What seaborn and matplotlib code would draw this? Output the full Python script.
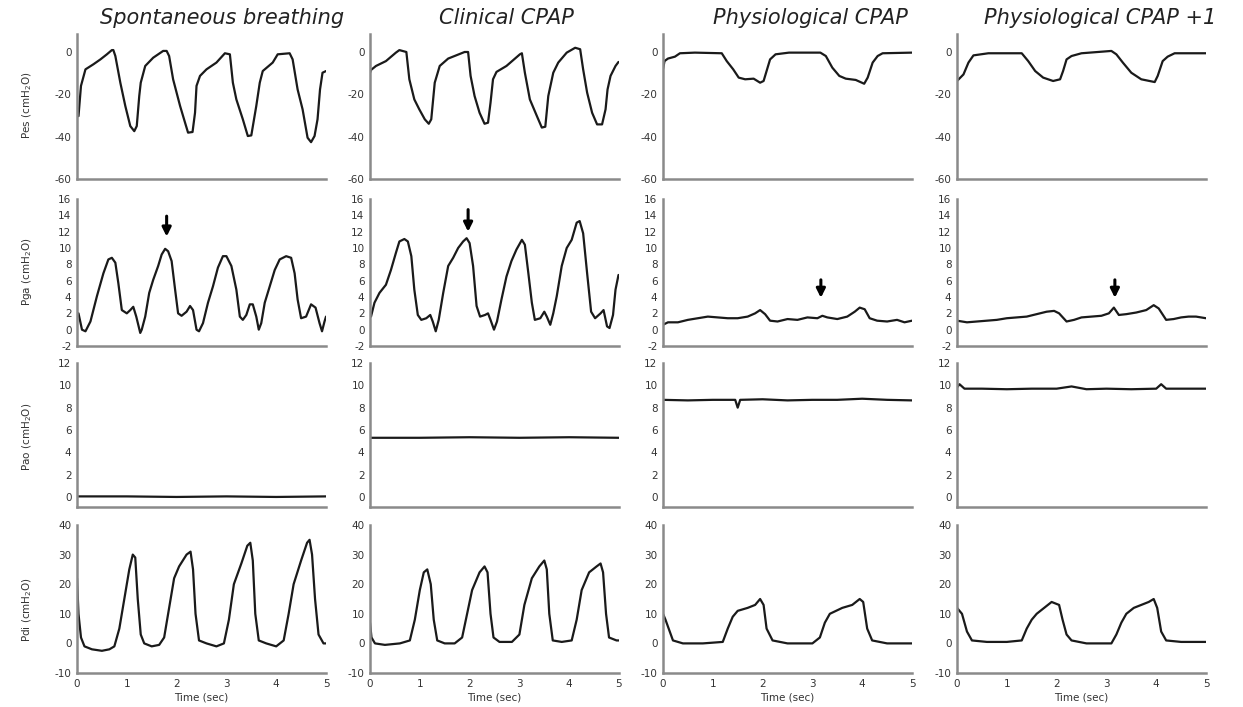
import numpy as np
import pandas as pd
import matplotlib
matplotlib.use("Agg")
import matplotlib.pyplot as plt
import seaborn as sns

sns.set_style("white")
plt.rcParams['font.family'] = ['DejaVu Sans']

titles = ["Spontaneous breathing", "Clinical CPAP", "Physiological CPAP", "Physiological CPAP +1"]
row_labels = ["Pes (cmH$_2$O)", "Pga (cmH$_2$O)", "Pao (cmH$_2$O)", "Pdi (cmH$_2$O)"]

# ---------------- Row 1: Pes ----------------
pes_sb_t = [0.03,0.08,0.17,0.33,0.47,0.6,0.7,0.73,0.77,0.87,0.97,1.07,1.15,1.2,1.25,1.28,1.37,1.53,1.73,1.8,1.85,1.93,2.07,2.17,2.23,2.32,2.37,2.4,2.47,2.6,2.8,2.97,3.07,3.13,3.2,3.33,3.43,3.5,3.6,3.67,3.73,3.93,4.03,4.27,4.33,4.43,4.53,4.63,4.7,4.77,4.83,4.88,4.93,5.0]
pes_sb_v = [-30.3,-16,-8.2,-5.8,-3.5,-1.1,0.9,0.9,-1.9,-14.5,-25.5,-35,-37.4,-35,-20.8,-14.5,-6.6,-2.7,0.5,0.5,-1.9,-12.9,-25.5,-33.4,-38.1,-37.8,-28.7,-16,-11.3,-8.2,-5,-0.6,-1.1,-14.5,-22.4,-31.8,-39.7,-39.4,-25.5,-14.5,-9,-5,-1.1,-0.6,-3.5,-17.7,-27.1,-40.5,-42.6,-39.7,-31.8,-17.7,-9.8,-9]

pes_cc_t = [0.0,0.02,0.12,0.32,0.52,0.59,0.73,0.79,0.89,0.99,1.1,1.18,1.23,1.3,1.4,1.57,1.73,1.9,1.97,2.02,2.1,2.2,2.3,2.37,2.42,2.47,2.54,2.74,3.01,3.05,3.11,3.21,3.35,3.45,3.52,3.58,3.68,3.78,3.95,4.12,4.22,4.28,4.36,4.46,4.56,4.66,4.73,4.77,4.83,4.93,4.99]
pes_cc_v = [-9.8,-8.5,-6.6,-4.3,-0.3,0.9,0,-12.9,-22.4,-27.1,-31.8,-33.9,-31.8,-14.5,-6.6,-3.1,-1.6,0,0,-11.3,-20.8,-28.7,-33.9,-33.4,-24,-12.9,-9.4,-6.6,-1.1,-0.6,-9.8,-22.4,-30.2,-35.7,-35.3,-20.8,-9.8,-5,-0.3,2,1.3,-8.2,-19.2,-28.7,-34.2,-34.2,-27.1,-17.7,-11.3,-6.6,-4.7]

pes_pc_t = [0.0,0.03,0.1,0.24,0.34,0.64,1.18,1.28,1.41,1.52,1.65,1.82,1.95,2.02,2.09,2.15,2.26,2.53,3.16,3.27,3.4,3.54,3.67,3.87,4.04,4.11,4.21,4.31,4.41,5.0]
pes_pc_v = [-8.2,-4.3,-3.1,-2.2,-0.6,-0.3,-0.6,-4.3,-8.2,-12.1,-12.9,-12.6,-14.5,-13.7,-8.2,-3.5,-1.1,-0.3,-0.3,-1.9,-7.4,-11.3,-12.6,-13.2,-15,-12.1,-5,-1.9,-0.6,-0.3]

pes_p1_t = [0.0,0.13,0.23,0.33,0.63,1.3,1.43,1.57,1.73,1.93,2.07,2.13,2.2,2.3,2.5,3.1,3.2,3.33,3.5,3.7,3.97,4.03,4.13,4.23,4.37,5.0]
pes_p1_v = [-13.7,-10.6,-5,-1.6,-0.6,-0.6,-4.3,-9,-12.1,-13.7,-12.9,-9,-3.5,-1.9,-0.6,0.5,-1.1,-5,-9.8,-12.9,-14.2,-11.3,-4.3,-2.2,-0.6,-0.6]

# ---------------- Row 2: Pga ----------------
pga_sb_t = [0.03,0.1,0.17,0.27,0.4,0.53,0.63,0.7,0.77,0.83,0.9,1.0,1.07,1.13,1.19,1.27,1.3,1.37,1.45,1.53,1.63,1.7,1.77,1.83,1.9,1.97,2.03,2.1,2.2,2.27,2.33,2.4,2.45,2.53,2.63,2.73,2.83,2.93,3.0,3.1,3.2,3.27,3.33,3.4,3.47,3.53,3.6,3.65,3.7,3.77,3.87,3.97,4.07,4.2,4.3,4.37,4.43,4.5,4.6,4.7,4.79,4.87,4.92,4.97,5.0]
pga_sb_v = [2,0,-0.2,1,4.1,6.9,8.6,8.8,8.2,5.7,2.4,2,2.4,2.8,1.6,-0.4,0,1.6,4.5,6.1,7.8,9.2,9.9,9.6,8.4,4.9,2,1.7,2.2,2.9,2.4,0,-0.2,0.8,3.3,5.3,7.6,9,9,7.8,4.9,1.6,1.2,1.8,3.1,3.1,1.6,0,0.8,3.3,5.3,7.3,8.6,9,8.8,6.9,3.7,1.4,1.6,3.1,2.7,0.8,-0.2,1,1.6]

pga_cc_t = [0.02,0.09,0.19,0.32,0.42,0.52,0.59,0.69,0.76,0.83,0.89,0.96,1.03,1.13,1.21,1.26,1.32,1.38,1.47,1.57,1.67,1.77,1.87,1.94,2.0,2.07,2.14,2.21,2.31,2.37,2.42,2.49,2.55,2.64,2.74,2.84,2.94,3.05,3.11,3.18,3.25,3.31,3.42,3.5,3.55,3.62,3.68,3.75,3.85,3.95,4.05,4.15,4.21,4.28,4.36,4.44,4.52,4.63,4.69,4.76,4.81,4.88,4.93,4.99]
pga_cc_v = [1.6,3.3,4.5,5.5,7.3,9.4,10.8,11.1,10.8,9,4.9,1.8,1.2,1.4,1.8,1,-0.2,1.2,4.5,7.8,8.8,10,10.8,11.2,10.6,7.8,2.9,1.6,1.8,2,1.2,0,1,3.7,6.5,8.4,9.8,11,10.4,6.9,3.3,1.2,1.4,2.2,1.6,0.6,2,4.1,7.8,10,11,13.1,13.3,11.8,6.9,2.2,1.4,2,2.4,0.4,0.2,1.8,4.9,6.7]

pga_pc_t = [0.0,0.1,0.3,0.5,0.7,0.9,1.1,1.3,1.5,1.7,1.85,1.95,2.05,2.15,2.3,2.5,2.7,2.9,3.1,3.2,3.3,3.5,3.7,3.85,3.95,4.05,4.15,4.3,4.5,4.7,4.85,5.0]
pga_pc_v = [0.6,0.9,0.9,1.2,1.4,1.6,1.5,1.4,1.4,1.6,2.0,2.4,1.9,1.1,1.0,1.3,1.2,1.5,1.4,1.7,1.5,1.3,1.6,2.2,2.7,2.5,1.4,1.1,1.0,1.2,0.9,1.1]

pga_p1_t = [0.0,0.2,0.4,0.6,0.8,1.0,1.2,1.4,1.6,1.8,1.95,2.05,2.2,2.35,2.5,2.7,2.9,3.05,3.15,3.25,3.4,3.6,3.8,3.95,4.05,4.2,4.35,4.5,4.65,4.8,5.0]
pga_p1_v = [1.1,0.9,1.0,1.1,1.2,1.4,1.5,1.6,1.9,2.2,2.3,2.0,1.0,1.2,1.5,1.6,1.7,2.0,2.7,1.8,1.9,2.1,2.4,3.0,2.6,1.2,1.3,1.5,1.6,1.6,1.4]

# ---------------- Row 3: Pao ----------------
pao_sb_t = [0.0,1.0,2.0,3.0,4.0,5.0]
pao_sb_v = [0.05,0.05,0.0,0.05,0.0,0.05]

pao_cc_t = [0.0,1.0,2.0,3.0,4.0,5.0]
pao_cc_v = [5.3,5.3,5.35,5.3,5.35,5.3]

pao_pc_t = [0.0,0.5,1.0,1.45,1.5,1.55,2.0,2.5,3.0,3.5,4.0,4.5,5.0]
pao_pc_v = [8.7,8.65,8.7,8.7,8.0,8.7,8.75,8.65,8.7,8.7,8.8,8.7,8.65]

pao_p1_t = [0.0,0.05,0.15,0.5,1.0,1.5,2.0,2.3,2.6,3.0,3.5,4.0,4.1,4.2,4.6,5.0]
pao_p1_v = [9.8,10.1,9.7,9.7,9.65,9.7,9.7,9.9,9.65,9.7,9.65,9.7,10.1,9.7,9.7,9.7]

# ---------------- Row 4: Pdi ----------------
pdi_sb_t = [0.0,0.03,0.08,0.15,0.3,0.5,0.65,0.75,0.85,0.95,1.05,1.12,1.17,1.22,1.28,1.35,1.5,1.65,1.75,1.85,1.95,2.05,2.2,2.28,2.33,2.38,2.45,2.6,2.8,2.95,3.05,3.15,3.3,3.42,3.48,3.53,3.58,3.65,3.8,4.0,4.15,4.25,4.35,4.5,4.62,4.67,4.72,4.78,4.85,4.95,5.0]
pdi_sb_v = [22,10,2,-1,-2,-2.5,-2,-1,5,15,25,30,29,15,3,0,-1,-0.5,2,12,22,26,30,31,25,10,1,0,-1,0,8,20,27,33,34,28,10,1,0,-1,1,10,20,28,34,35,30,15,3,0,0]

pdi_cc_t = [0.0,0.03,0.1,0.3,0.6,0.8,0.9,1.0,1.08,1.15,1.22,1.28,1.35,1.5,1.7,1.85,1.95,2.05,2.2,2.3,2.36,2.42,2.48,2.6,2.85,3.0,3.1,3.25,3.4,3.5,3.55,3.6,3.67,3.85,4.05,4.15,4.25,4.4,4.55,4.63,4.68,4.74,4.8,4.95,5.0]
pdi_cc_v = [7,2,0,-0.5,0,1,8,18,24,25,20,8,1,0,0,2,10,18,24,26,24,10,2,0.5,0.5,3,13,22,26,28,25,10,1,0.5,1,8,18,24,26,27,24,10,2,1,1]

pdi_pc_t = [0.0,0.05,0.2,0.4,0.8,1.2,1.3,1.4,1.5,1.7,1.85,1.95,2.02,2.08,2.2,2.5,3.0,3.15,3.25,3.35,3.6,3.8,3.95,4.02,4.1,4.2,4.5,5.0]
pdi_pc_v = [10,8,1,0,0,0.5,5,9,11,12,13,15,13,5,1,0,0,2,7,10,12,13,15,14,5,1,0,0]

pdi_p1_t = [0.0,0.1,0.2,0.3,0.6,1.0,1.3,1.4,1.5,1.6,1.75,1.9,2.05,2.12,2.2,2.3,2.6,3.1,3.2,3.3,3.4,3.55,3.7,3.85,3.95,4.02,4.1,4.2,4.5,5.0]
pdi_p1_v = [12,10,4,1,0.5,0.5,1,5,8,10,12,14,13,8,3,1,0,0,3,7,10,12,13,14,15,12,4,1,0.5,0.5]

# arrows on Pga row: (time, value of tip)
arrow_cols = [0, 1, 2, 3]
arrow_t = [1.8, 1.97, 3.17, 3.17]
arrow_tip = [11.4, 12.0, 3.9, 3.9]
arrow_tail = [13.9, 14.7, 6.1, 6.1]

traces = [
    [(pes_sb_t, pes_sb_v), (pes_cc_t, pes_cc_v), (pes_pc_t, pes_pc_v), (pes_p1_t, pes_p1_v)],
    [(pga_sb_t, pga_sb_v), (pga_cc_t, pga_cc_v), (pga_pc_t, pga_pc_v), (pga_p1_t, pga_p1_v)],
    [(pao_sb_t, pao_sb_v), (pao_cc_t, pao_cc_v), (pao_pc_t, pao_pc_v), (pao_p1_t, pao_p1_v)],
    [(pdi_sb_t, pdi_sb_v), (pdi_cc_t, pdi_cc_v), (pdi_pc_t, pdi_pc_v), (pdi_p1_t, pdi_p1_v)],
]

ylims = [(-60, 8.5), (-2, 16), (-0.9, 12), (-10, 40)]
yticks = [[0, -20, -40, -60], list(range(-2, 17, 2)), list(range(0, 13, 2)), [-10, 0, 10, 20, 30, 40]]
xticks = [0, 1, 2, 3, 4, 5]

W, H = 1243, 707
fig = plt.figure(figsize=(W / 100, H / 100), dpi=100)
fig.patch.set_facecolor("white")

col_left = [77, 370, 663, 957]
col_w = 249
row_top = [34, 199, 363, 525]
row_bot = [179, 346, 507, 673]
title_x = [222, 506, 810, 1100]
label_y = [105, 272, 437, 610]

spine_col = "#8a8a8a"
text_col = "#333333"

for r in range(4):
    for c in range(4):
        ax = fig.add_axes([col_left[c] / W, 1 - row_bot[r] / H, col_w / W, (row_bot[r] - row_top[r]) / H])
        t, v = traces[r][c]
        df = pd.DataFrame({"t": t, "v": v})
        sns.lineplot(data=df, x="t", y="v", ax=ax, color="#1a1a1a", linewidth=1.6)
        ax.set_xlim(0, 5)
        ax.set_ylim(*ylims[r])
        ax.set_yticks(yticks[r])
        ax.set_xticks(xticks)
        ax.set_yticklabels([str(y) for y in yticks[r]], fontsize=7.5, color=text_col)
        if r == 3:
            ax.set_xticklabels([str(x) for x in xticks], fontsize=7.5, color=text_col)
            ax.set_xlabel("Time (sec)", fontsize=7.5, color=text_col, labelpad=3)
        else:
            ax.set_xticklabels([])
            ax.set_xlabel("")
        ax.set_ylabel("")
        for s in ["top", "right"]:
            ax.spines[s].set_visible(False)
        for s in ["left", "bottom"]:
            ax.spines[s].set_color(spine_col)
            ax.spines[s].set_linewidth(1.8)
        ax.tick_params(axis="both", direction="in", length=3, width=1, color=spine_col, pad=4)
        ax.set_facecolor("white")
        if r == 1:
            i = arrow_cols.index(c)
            ax.annotate("", xy=(arrow_t[i], arrow_tip[i]), xytext=(arrow_t[i], arrow_tail[i]),
                        arrowprops=dict(arrowstyle="-|>", lw=2.2, color="black", mutation_scale=13,
                                        shrinkA=0, shrinkB=0))

for c in range(4):
    fig.text(title_x[c] / W, 1 - 18 / H, titles[c], ha="center", va="center",
             fontsize=15, fontstyle="italic", color="#222222")
for r in range(4):
    fig.text(27 / W, 1 - label_y[r] / H, row_labels[r], ha="center", va="center",
             rotation=90, fontsize=7.5, color=text_col)

fig.savefig("out.png", dpi=100, facecolor="white")
